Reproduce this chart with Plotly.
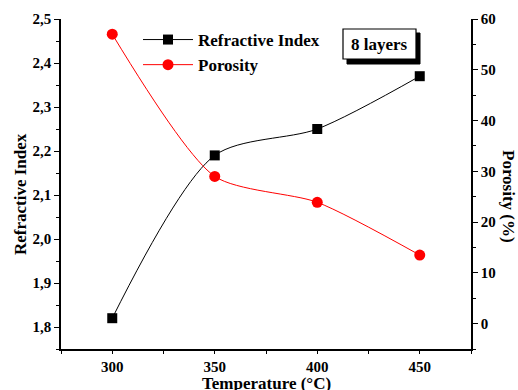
import plotly.graph_objects as go

temperature = [300, 350, 400, 450]
refractive_index = [1.82, 2.19, 2.25, 2.37]
porosity = [57.0, 29.0, 23.9, 13.5]

FONT = "Liberation Serif"

W, H = 518, 390
L, R, T, B = 61, 471, 19, 349


def px(x):
    return (x - L) / (R - L)


def py(y):
    return (B - y) / (B - T)


fig = go.Figure()
fig.add_trace(go.Scatter(
    x=temperature, y=refractive_index, name="Refractive Index",
    mode="lines+markers", line=dict(color="black", width=1, shape="spline", smoothing=0.8),
    marker=dict(symbol="square", size=10, color="black"),
    xaxis="x", yaxis="y"))
fig.add_trace(go.Scatter(
    x=temperature, y=porosity, name="Porosity",
    mode="lines+markers", line=dict(color="red", width=1, shape="spline", smoothing=0.7),
    marker=dict(symbol="circle", size=11, color="red"),
    xaxis="x", yaxis="y2"))

axis_common = dict(showline=True, linecolor="black", linewidth=1.5, showgrid=False,
                   zeroline=False, tickcolor="black", tickwidth=1.2, automargin=False,
                   tickfont=dict(family=FONT, size=15, color="black", weight="bold"))

fig.update_layout(
    width=W, height=H,
    margin=dict(l=L, r=W - R, t=T, b=H - B, autoexpand=False),
    paper_bgcolor="white", plot_bgcolor="white",
    separators=",.",
    showlegend=True,
    legend=dict(x=px(138), y=py(22), xanchor="left", yanchor="top", itemwidth=50,
                bgcolor="rgba(0,0,0,0)", borderwidth=0, tracegroupgap=0,
                font=dict(family=FONT, size=17, color="black", weight="bold")),
    xaxis=dict(range=[275, 475], tickvals=[300, 350, 400, 450], ticks="outside", ticklen=3,
               minor=dict(dtick=25, tick0=275, ticks="outside", ticklen=3, tickcolor="black", tickwidth=1.2),
               anchor="y", **axis_common),
    xaxis2=dict(range=[275, 475], overlaying="x", side="top", anchor="y", dtick=25, tick0=275,
                ticks="inside", ticklen=5, showticklabels=False, **axis_common),
    yaxis=dict(range=[1.75, 2.5], dtick=0.1, tick0=1.8, tickformat=".1f", ticks="outside", ticklen=5,
               minor=dict(dtick=0.05, tick0=1.75, ticks="outside", ticklen=3, tickcolor="black", tickwidth=1.2),
               anchor="x", **axis_common),
    yaxis2=dict(range=[-5, 60], dtick=10, tick0=0, ticks="outside", ticklen=5, side="right",
                overlaying="y", anchor="x",
                minor=dict(dtick=5, tick0=-5, ticks="outside", ticklen=3, tickcolor="black", tickwidth=1.2),
                **axis_common),
)

# axis titles
title_font = dict(family=FONT, size=17, color="black", weight="bold")
fig.add_annotation(text="Temperature (°C)", xref="paper", yref="paper", x=px(266), y=py(383),
                   showarrow=False, font=title_font, xanchor="center", yanchor="middle")
fig.add_annotation(text="Refractive Index", xref="paper", yref="paper", x=px(20), y=py(194),
                   showarrow=False, font=title_font, textangle=-90, xanchor="center", yanchor="middle")
fig.add_annotation(text="Porosity (%)", xref="paper", yref="paper", x=px(509), y=py(196),
                   showarrow=False, font=title_font, textangle=90, xanchor="center", yanchor="middle")

# "8 layers" box with shadow
fig.add_shape(type="rect", xref="paper", yref="paper", x0=px(347), x1=px(420), y0=py(64), y1=py(33),
              fillcolor="black", line=dict(color="black", width=1), layer="above")
fig.add_shape(type="rect", xref="paper", yref="paper", x0=px(343), x1=px(416), y0=py(59), y1=py(29),
              fillcolor="white", line=dict(color="black", width=1.2), layer="above")
fig.add_annotation(text="8 layers", xref="paper", yref="paper", x=px(379.5), y=py(44),
                   showarrow=False, font=dict(family=FONT, size=17, color="black", weight="bold"),
                   xanchor="center", yanchor="middle")

fig.write_html("out.html", config={"displayModeBar": False},
               post_script="document.body.style.margin='0px';document.body.style.overflow='hidden';")
